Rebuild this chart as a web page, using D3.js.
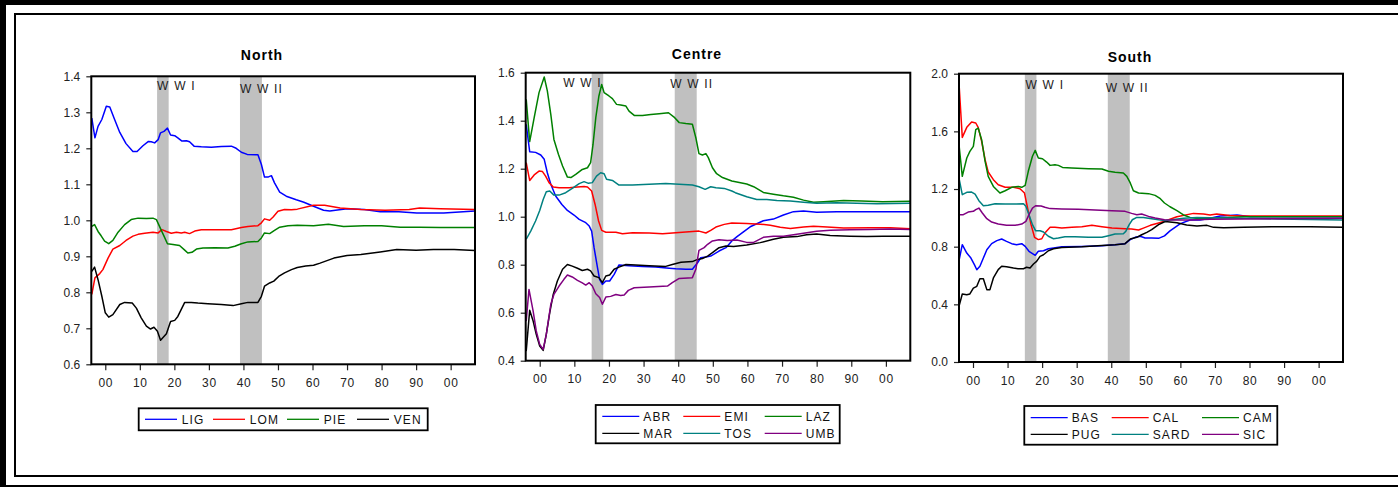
<!DOCTYPE html>
<html>
<head>
<meta charset="utf-8">
<script src="https://cdn.jsdelivr.net/npm/d3@7"></script>
<style>
  body { margin: 0; background: #fff; }
  svg { display: block; }
  text { font-family: "Liberation Sans", Arial, Helvetica, sans-serif; }
</style>
</head>
<body>
<svg id="chart" width="1398" height="487"></svg>
<script>
// ---- Data: relative regional indices, [year, value] ----
const DECADES = [1900, 1910, 1920, 1930, 1940, 1950, 1960, 1970, 1980, 1990, 2000];
const WAR_BANDS = [[1915, 1918.35], [1939, 1945.35]];

const NORTH_Y_TICKS = [0.6, 0.7, 0.8, 0.9, 1.0, 1.1, 1.2, 1.3, 1.4];
const CENTRE_Y_TICKS = [0.4, 0.6, 0.8, 1.0, 1.2, 1.4, 1.6];
const SOUTH_Y_TICKS = [0.0, 0.4, 0.8, 1.2, 1.6, 2.0];

// North
const LIG = [[1896.1,1.284],[1897,1.229],[1897.9,1.261],[1899,1.28],[1900.3,1.317],[1901.3,1.315],[1902.7,1.28],[1904.2,1.244],[1906,1.213],[1908,1.191],[1909.2,1.191],[1910.9,1.207],[1912.5,1.219],[1913.3,1.218],[1914.3,1.215],[1915.3,1.224],[1916,1.243],[1917,1.247],[1918,1.256],[1918.9,1.237],[1920.1,1.235],[1921,1.229],[1922.2,1.22],[1923.5,1.221],[1924.4,1.218],[1925.7,1.206],[1927.8,1.204],[1930.7,1.203],[1933.6,1.205],[1936.5,1.206],[1937.9,1.2],[1939.4,1.189],[1941.1,1.183],[1944.2,1.182],[1945.2,1.155],[1946.1,1.12],[1947.1,1.12],[1948.1,1.124],[1949,1.104],[1950.5,1.078],[1952.4,1.067],[1955.3,1.057],[1957.5,1.05],[1960.3,1.039],[1963.2,1.028],[1965,1.026],[1970,1.032],[1975,1.03],[1979.6,1.024],[1985,1.024],[1990.2,1.02],[1998,1.02],[2007,1.026]];
const LOM = [[1896.1,0.794],[1897,0.84],[1898.4,0.852],[1899.3,0.863],[1900.8,0.895],[1902.2,0.92],[1904.2,0.93],[1906,0.944],[1908,0.956],[1909.5,0.961],[1911.4,0.964],[1913.8,0.967],[1915.3,0.965],[1916.4,0.974],[1917.7,0.969],[1919.1,0.964],[1920.6,0.967],[1922,0.965],[1923,0.967],[1924.4,0.963],[1925.9,0.97],[1927.8,0.974],[1931.7,0.974],[1936.5,0.974],[1939.4,0.98],[1941.3,0.983],[1944.2,0.985],[1945.2,0.993],[1946.1,1.004],[1947.6,1.0],[1948.6,1.009],[1950,1.025],[1951.9,1.03],[1953.9,1.029],[1955.6,1.031],[1960.3,1.042],[1963.5,1.042],[1968,1.034],[1974,1.03],[1981,1.028],[1988,1.03],[1991,1.034],[1997,1.032],[2007,1.03]];
const PIE = [[1896.1,0.983],[1896.9,0.988],[1897.9,0.969],[1898.8,0.957],[1899.8,0.942],[1901,0.935],[1902.2,0.944],[1903.7,0.967],[1905.6,0.988],[1907.5,1.002],[1909.5,1.006],[1911.9,1.005],[1913.8,1.006],[1914.8,1.002],[1915.7,0.983],[1917,0.956],[1918,0.935],[1919.6,0.933],[1921.5,0.93],[1923,0.917],[1923.9,0.909],[1925.1,0.911],[1926.4,0.92],[1928.3,0.923],[1931.7,0.924],[1935.5,0.923],[1937.5,0.928],[1939.4,0.935],[1941.3,0.94],[1944.2,0.941],[1945.2,0.951],[1946.1,0.965],[1947.6,0.963],[1949,0.972],[1950.5,0.981],[1952.9,0.985],[1955.6,0.986],[1960.3,0.985],[1964.6,0.989],[1969,0.983],[1975,0.985],[1980,0.985],[1985.4,0.981],[1991,0.981],[1997,0.98],[2007,0.98]];
const VEN = [[1896.1,0.858],[1896.9,0.87],[1897.9,0.835],[1899,0.789],[1900,0.743],[1901,0.731],[1902.2,0.738],[1904.2,0.766],[1905.6,0.772],[1907.8,0.77],[1909,0.756],[1910.4,0.729],[1911.9,0.706],[1913.1,0.698],[1914.1,0.703],[1915.1,0.692],[1916,0.667],[1917.7,0.685],[1918.9,0.719],[1920.1,0.722],[1921,0.733],[1923,0.772],[1924.9,0.772],[1926.8,0.77],[1929.7,0.768],[1933.6,0.766],[1937,0.763],[1939.4,0.768],[1941.3,0.772],[1944.2,0.772],[1945.2,0.789],[1946.1,0.817],[1947.6,0.826],[1948.8,0.831],[1950.2,0.844],[1951.9,0.854],[1953.9,0.863],[1955.6,0.869],[1958,0.873],[1960.3,0.875],[1962.2,0.881],[1966.2,0.895],[1970,0.902],[1974,0.905],[1979.6,0.912],[1984.4,0.919],[1990,0.917],[1995,0.919],[2001,0.919],[2007,0.916]];

// Centre
const ABR = [[1896.1,1.385],[1897.1,1.271],[1898.8,1.268],[1900.3,1.257],[1901.3,1.239],[1902.2,1.183],[1903.2,1.135],[1904.6,1.086],[1906.4,1.051],[1908,1.026],[1909.9,1.007],[1911.4,0.989],[1913.3,0.975],[1914.3,0.961],[1915,0.94],[1915.7,0.871],[1916.7,0.787],[1917.3,0.739],[1918.1,0.718],[1919.1,0.732],[1920.2,0.732],[1921.5,0.76],[1922.9,0.799],[1925.8,0.796],[1929.7,0.792],[1933.5,0.79],[1937.4,0.785],[1939.3,0.783],[1942.2,0.781],[1944.1,0.781],[1945.6,0.808],[1946.5,0.829],[1948,0.832],[1949.4,0.836],[1951.8,0.857],[1953.8,0.871],[1955.5,0.899],[1957,0.917],[1960.8,0.958],[1964.6,0.983],[1967.5,0.99],[1970.4,1.007],[1973.3,1.021],[1976.2,1.024],[1980,1.019],[1985.8,1.021],[1995.5,1.021],[2007,1.021]];
const EMI = [[1896.1,1.225],[1897.1,1.151],[1898.4,1.174],[1899.8,1.19],[1900.8,1.188],[1901.7,1.169],[1902.7,1.142],[1903.9,1.124],[1905.6,1.121],[1908.5,1.121],[1910.9,1.124],[1912.8,1.126],[1913.8,1.124],[1915,1.107],[1916,1.051],[1917,0.982],[1917.9,0.943],[1919.1,0.935],[1922,0.935],[1923.9,0.929],[1926.8,0.933],[1931.6,0.932],[1935.5,0.929],[1939.3,0.933],[1944.1,0.938],[1946,0.94],[1948,0.932],[1949.4,0.943],[1950.9,0.957],[1953.3,0.968],[1955.5,0.974],[1959.8,0.972],[1963.7,0.969],[1966.6,0.964],[1969.5,0.956],[1972.4,0.951],[1976.2,0.957],[1979.1,0.96],[1983,0.957],[1987.8,0.953],[1995.5,0.954],[2001.3,0.954],[2007,0.95]];
const LAZ = [[1896.1,1.489],[1897.1,1.313],[1898.4,1.413],[1899.8,1.517],[1901.3,1.582],[1902.2,1.524],[1903.2,1.426],[1904.1,1.322],[1905.4,1.26],[1906.6,1.211],[1908,1.165],[1909,1.163],[1910.4,1.176],[1912.3,1.197],[1913.8,1.204],[1914.7,1.225],[1915.4,1.301],[1916.2,1.413],[1917.1,1.503],[1917.9,1.551],[1918.6,1.517],[1920,1.503],[1921,1.492],[1922.2,1.468],[1923.4,1.465],[1924.9,1.461],[1925.8,1.44],[1927.3,1.422],[1929.7,1.422],[1932.1,1.426],[1934.5,1.429],[1937.2,1.433],[1938.8,1.415],[1940.3,1.392],[1942.2,1.388],[1944.1,1.385],[1945.1,1.329],[1946,1.263],[1947,1.257],[1948,1.263],[1948.7,1.246],[1949.9,1.204],[1951.1,1.179],[1952.8,1.163],[1955.5,1.149],[1959.8,1.136],[1961.8,1.125],[1964.6,1.101],[1967.5,1.094],[1970.4,1.087],[1973.3,1.081],[1976.2,1.069],[1979.1,1.06],[1982,1.062],[1987.8,1.067],[1993,1.065],[1999,1.062],[2007,1.064]];
const MAR = [[1896.1,0.44],[1897.1,0.61],[1898.1,0.565],[1899,0.51],[1900,0.461],[1901,0.443],[1901.9,0.51],[1902.9,0.6],[1903.9,0.676],[1905.1,0.732],[1906.6,0.781],[1908,0.801],[1909.4,0.794],[1910.9,0.785],[1912.3,0.776],[1913.8,0.781],[1914.7,0.774],[1915.7,0.753],[1917.1,0.746],[1918.1,0.725],[1919.1,0.753],[1920.2,0.757],[1921.5,0.781],[1922.9,0.79],[1924.9,0.801],[1927.7,0.799],[1931.6,0.796],[1936.4,0.793],[1938.3,0.801],[1940.8,0.81],[1944.1,0.813],[1945.6,0.822],[1947,0.826],[1948.5,0.836],[1949.9,0.85],[1951.8,0.871],[1953.8,0.878],[1956,0.876],[1959.8,0.882],[1963.7,0.892],[1967.5,0.906],[1970.4,0.914],[1974.3,0.917],[1977.1,0.925],[1980,0.928],[1983.9,0.922],[1989.6,0.919],[1994.4,0.917],[1999.2,0.919],[2007,0.919]];
const TOS = [[1896.1,0.906],[1897.4,0.94],[1898.8,0.982],[1900,1.026],[1901,1.072],[1901.9,1.104],[1902.9,1.107],[1904.1,1.09],[1905.6,1.09],[1907.5,1.1],[1909.4,1.118],[1911.4,1.138],[1912.8,1.146],[1914.1,1.139],[1915.2,1.142],[1916.4,1.169],[1917.6,1.183],[1918.6,1.179],[1919.3,1.156],[1921,1.151],[1922.9,1.132],[1926.8,1.132],[1931.6,1.135],[1936.4,1.138],[1940.3,1.135],[1944.1,1.132],[1946,1.125],[1947.8,1.114],[1949.4,1.125],[1950.9,1.121],[1953.3,1.118],[1955.5,1.107],[1956.5,1.1],[1959.8,1.083],[1962.7,1.072],[1965.6,1.072],[1968.5,1.068],[1972.4,1.065],[1976.2,1.06],[1980,1.056],[1985.8,1.058],[1991.6,1.056],[1997.4,1.054],[2007,1.056]];
const UMB = [[1896.1,0.565],[1896.9,0.697],[1898.1,0.607],[1899,0.524],[1900,0.468],[1901,0.447],[1901.9,0.51],[1903.2,0.635],[1904.1,0.676],[1905.6,0.711],[1907,0.739],[1908,0.757],[1909.4,0.749],[1910.9,0.735],[1912.3,0.724],[1913.3,0.715],[1914.3,0.725],[1915.2,0.711],[1916.2,0.679],[1917.3,0.663],[1918.1,0.635],[1919.1,0.665],[1920.5,0.668],[1922,0.676],[1923.4,0.672],[1924.4,0.674],[1925.6,0.693],[1927.3,0.704],[1931.6,0.707],[1936.9,0.711],[1938.3,0.725],[1940.3,0.743],[1944.1,0.746],[1945.1,0.781],[1946,0.86],[1947.5,0.871],[1948.5,0.885],[1949.9,0.899],[1951.8,0.904],[1954.2,0.901],[1957,0.903],[1959.8,0.893],[1961.8,0.893],[1964.6,0.914],[1967.5,0.919],[1970.4,0.919],[1973.3,0.925],[1976.2,0.931],[1980,0.939],[1983.9,0.944],[1989.6,0.946],[1995.4,0.947],[2001.2,0.949],[2007,0.947]];

// South
const BAS = [[1895.95,0.703],[1896.9,0.814],[1898.2,0.756],[1899.4,0.721],[1900.4,0.675],[1901.1,0.64],[1902,0.664],[1903,0.721],[1904,0.779],[1905.4,0.821],[1906.9,0.842],[1908.3,0.853],[1909.7,0.837],[1911.2,0.821],[1912.6,0.814],[1914.1,0.821],[1915.1,0.802],[1916.2,0.768],[1918,0.74],[1918.9,0.768],[1920.4,0.772],[1921.8,0.786],[1923.3,0.791],[1925.7,0.8],[1931.5,0.802],[1937.3,0.807],[1941.1,0.814],[1944,0.821],[1945.5,0.849],[1946.9,0.865],[1948.4,0.872],[1949.8,0.86],[1951.7,0.86],[1953.7,0.858],[1955.4,0.875],[1957,0.91],[1960,0.96],[1962.8,0.985],[1965.7,0.985],[1968.6,0.997],[1971.5,1.013],[1976.4,1.02],[1980.3,1.008],[1988,1.008],[2007,1.008]];
const CAL = [[1895.95,1.935],[1896.9,1.558],[1898.2,1.628],[1899.6,1.665],[1900.8,1.658],[1901.5,1.628],[1902.5,1.531],[1903.5,1.403],[1904.4,1.318],[1905.9,1.265],[1907.3,1.23],[1909.3,1.212],[1911.7,1.212],[1913.6,1.202],[1914.9,1.172],[1915.8,1.068],[1916.8,0.953],[1917.8,0.865],[1918.9,0.849],[1919.9,0.855],[1920.8,0.895],[1922.3,0.934],[1923.7,0.934],[1925.7,0.929],[1928.6,0.934],[1931.5,0.939],[1934.4,0.948],[1937.3,0.939],[1940.2,0.929],[1944,0.925],[1945.9,0.923],[1947.9,0.916],[1949.3,0.929],[1951.3,0.948],[1953.7,0.964],[1955.4,0.976],[1959,1.008],[1963.8,1.031],[1966.7,1.027],[1968.6,1.02],[1970.5,1.027],[1974.3,1.017],[1978.2,1.013],[1987.8,1.013],[2007,1.013]];
const CAM = [[1895.95,1.508],[1896.9,1.288],[1898.2,1.415],[1899.1,1.461],[1900.1,1.496],[1900.8,1.612],[1901.5,1.623],[1902.5,1.542],[1903.5,1.392],[1904.4,1.288],[1905.9,1.218],[1907.8,1.172],[1909.3,1.188],[1911.2,1.212],[1913.1,1.218],[1914.1,1.212],[1915.1,1.225],[1916,1.323],[1917.2,1.427],[1918,1.468],[1918.9,1.415],[1920.1,1.41],[1921.3,1.387],[1922.3,1.364],[1923.7,1.369],[1924.7,1.364],[1925.9,1.35],[1928.6,1.346],[1933.4,1.341],[1937.3,1.339],[1939.2,1.323],[1941.1,1.316],[1943.5,1.311],[1944.5,1.288],[1945.5,1.242],[1946.4,1.188],[1947.9,1.172],[1950.8,1.168],[1952.7,1.156],[1954.2,1.133],[1955.4,1.103],[1957,1.077],[1959,1.05],[1960.9,1.02],[1962.8,1.003],[1965.7,0.994],[1968.6,0.999],[1973.5,1.003],[1978.4,1.008],[1988,1.008],[2007,1.008]];
const PUG = [[1895.95,0.386],[1896.9,0.472],[1898.2,0.467],[1899.1,0.472],[1900.1,0.513],[1901.1,0.525],[1902,0.578],[1903,0.578],[1904,0.502],[1904.9,0.502],[1905.9,0.583],[1907.3,0.641],[1908.3,0.664],[1909.7,0.661],[1911.7,0.652],[1913.1,0.647],[1914.6,0.647],[1915.5,0.657],[1916.5,0.652],[1917.5,0.68],[1918.4,0.698],[1919.4,0.733],[1920.4,0.744],[1921.8,0.772],[1923.3,0.786],[1925.7,0.795],[1931.5,0.8],[1937.3,0.809],[1941.1,0.814],[1944,0.821],[1945.5,0.853],[1947.4,0.865],[1948.8,0.883],[1950.3,0.899],[1951.7,0.918],[1953.7,0.953],[1955.6,0.975],[1959,0.966],[1961.8,0.95],[1964.8,0.943],[1967.7,0.948],[1969.6,0.934],[1972.5,0.932],[1978.3,0.934],[1988,0.939],[1997.6,0.939],[2007,0.934]];
const SARD = [[1895.95,1.276],[1896.9,1.161],[1898.2,1.177],[1899.6,1.179],[1900.6,1.165],[1901.7,1.119],[1903,1.084],[1904.4,1.087],[1906.4,1.098],[1909.3,1.096],[1912.2,1.096],[1914.6,1.098],[1915.3,1.08],[1916.2,1.022],[1917.2,0.953],[1918.1,0.911],[1919.4,0.911],[1920.4,0.902],[1921.8,0.872],[1923.3,0.855],[1924.7,0.86],[1926.6,0.869],[1929.5,0.869],[1933.4,0.865],[1937.3,0.865],[1939.2,0.876],[1941.1,0.888],[1943.5,0.89],[1944.2,0.906],[1945.2,0.953],[1946.1,0.987],[1947.4,1.003],[1949.3,1.003],[1951.7,0.994],[1953.7,0.987],[1955.4,0.982],[1957,0.985],[1960.9,0.997],[1964.8,1.003],[1968.6,1.001],[1978.3,0.997],[1988,0.992],[2007,0.985]];
const SIC = [[1895.95,1.022],[1897.2,1.022],[1898.6,1.04],[1900.1,1.045],[1900.8,1.057],[1901.7,1.068],[1902.7,1.034],[1904,0.994],[1905.4,0.971],[1907.3,0.957],[1909.7,0.948],[1912.2,0.948],[1914.1,0.957],[1915.3,0.976],[1916.2,1.022],[1917.2,1.068],[1918.1,1.084],[1919.7,1.082],[1920.8,1.073],[1922.3,1.064],[1925.7,1.061],[1930.5,1.059],[1935.3,1.054],[1940.2,1.05],[1944,1.045],[1945.9,1.031],[1947.4,1.022],[1948.8,1.027],[1950.8,1.01],[1952.7,0.999],[1955.4,0.987],[1958,0.985],[1963,0.985],[1968.6,0.99],[1978.3,0.992],[1988,0.994],[2007,0.997]];

// ---- Styling ----
const COLORS = { blue: "#0000ff", red: "#ff0000", green: "#008000", black: "#000000", teal: "#008080", purple: "#800080" };
const X_DOMAIN = [1895.95, 2007.05];

const panels = [
  {
    title: "North", titleX: 262, titleY: 60,
    box: { x0: 91.3, y0: 76.3, x1: 475, y1: 364.3 },
    yDomain: [0.6, 1.4], yTicks: NORTH_Y_TICKS,
    series: [
      { name: "LIG", color: COLORS.blue, data: LIG },
      { name: "LOM", color: COLORS.red, data: LOM },
      { name: "PIE", color: COLORS.green, data: PIE },
      { name: "VEN", color: COLORS.black, data: VEN }
    ],
    warLabels: [{ text: "W W I", year: 1915, dy: 13.8 }, { text: "W W II", year: 1939, dy: 16.4 }],
    legend: { x: 138.7, y: 408.3, w: 289, h: 22, lineLen: 32, textGap: 4.7, cols: [6.3, 74.3, 148.3, 218.3], rows: [11], perRow: 4 }
  },
  {
    title: "Centre", titleX: 697, titleY: 59,
    box: { x0: 525.7, y0: 72.7, x1: 910.3, y1: 360.7 },
    yDomain: [0.4, 1.6], yTicks: CENTRE_Y_TICKS,
    series: [
      { name: "ABR", color: COLORS.blue, data: ABR },
      { name: "EMI", color: COLORS.red, data: EMI },
      { name: "LAZ", color: COLORS.green, data: LAZ },
      { name: "MAR", color: COLORS.black, data: MAR },
      { name: "TOS", color: COLORS.teal, data: TOS },
      { name: "UMB", color: COLORS.purple, data: UMB }
    ],
    warLabels: [{ text: "W W I", year: 1906.8, dy: 14.6 }, { text: "W W II", year: 1937.7, dy: 15 }],
    legend: { x: 595.7, y: 405, w: 244, h: 38.3, lineLen: 37, textGap: 4, cols: [6.6, 87.6, 169], rows: [11.3, 28.3], perRow: 3 }
  },
  {
    title: "South", titleX: 1130, titleY: 62,
    box: { x0: 959, y0: 73.7, x1: 1343, y1: 362 },
    yDomain: [0, 2], yTicks: SOUTH_Y_TICKS,
    series: [
      { name: "BAS", color: COLORS.blue, data: BAS },
      { name: "CAL", color: COLORS.red, data: CAL },
      { name: "CAM", color: COLORS.green, data: CAM },
      { name: "PUG", color: COLORS.black, data: PUG },
      { name: "SARD", color: COLORS.teal, data: SARD },
      { name: "SIC", color: COLORS.purple, data: SIC }
    ],
    warLabels: [{ text: "W W I", year: 1915.2, dy: 15.3 }, { text: "W W II", year: 1938.4, dy: 18.3 }],
    legend: { x: 1024.3, y: 406, w: 253, h: 38.7, lineLen: 37, textGap: 4, cols: [6.4, 87.4, 177.7], rows: [11.7, 28.3], perRow: 3 }
  }
];

const svg = d3.select("#chart");
svg.append("rect").attr("width", 1398).attr("height", 487).attr("fill", "#fff");

// Page frame: heavy outer edge and thin inner rule (open on the right)
svg.append("rect").attr("x", 0).attr("y", 0).attr("width", 6).attr("height", 487).attr("fill", "#000");
svg.append("rect").attr("x", 0).attr("y", 0).attr("width", 1398).attr("height", 5).attr("fill", "#000");
svg.append("rect").attr("x", 0).attr("y", 485).attr("width", 1398).attr("height", 2).attr("fill", "#000");
svg.append("path")
  .attr("d", "M1398,14 H15 V476 H1398")
  .attr("fill", "none").attr("stroke", "#000").attr("stroke-width", 2);

const fmtDecade = d => String(d % 100).padStart(2, "0");
const fmtY = d3.format(".1f");

panels.forEach((p, pi) => {
  const b = p.box;
  const x = d3.scaleLinear().domain(X_DOMAIN).range([b.x0, b.x1]);
  const y = d3.scaleLinear().domain(p.yDomain).range([b.y1, b.y0]);
  const g = svg.append("g");

  const clipId = "clip" + pi;
  g.append("clipPath").attr("id", clipId)
    .append("rect").attr("x", b.x0).attr("y", b.y0).attr("width", b.x1 - b.x0).attr("height", b.y1 - b.y0);

  // Title
  g.append("text").attr("x", p.titleX).attr("y", p.titleY)
    .attr("text-anchor", "middle").attr("font-size", 14).attr("font-weight", "bold")
    .attr("letter-spacing", 1).attr("fill", "#000").text(p.title);

  // War shading
  g.selectAll("rect.band").data(WAR_BANDS).join("rect")
    .attr("x", d => x(d[0])).attr("y", b.y0)
    .attr("width", d => x(d[1]) - x(d[0])).attr("height", b.y1 - b.y0)
    .attr("fill", "#c0c0c0");

  // War labels
  g.selectAll("text.war").data(p.warLabels).join("text")
    .attr("x", d => x(d.year)).attr("y", d => b.y0 + d.dy)
    .attr("font-size", 12).attr("letter-spacing", 1.2).attr("fill", "#222")
    .attr("xml:space", "preserve").text(d => d.text);

  // Series
  const line = d3.line().x(d => x(d[0])).y(d => y(d[1]));
  g.append("g").attr("clip-path", `url(#${clipId})`)
    .selectAll("path").data(p.series).join("path")
    .attr("d", d => line(d.data))
    .attr("fill", "none").attr("stroke", d => d.color)
    .attr("stroke-width", 1.5).attr("stroke-linejoin", "round");

  // Axes
  const yAxis = d3.axisLeft(y).tickValues(p.yTicks).tickFormat(fmtY).tickSize(5).tickPadding(6);
  const ya = g.append("g").attr("transform", `translate(${b.x0},0)`).call(yAxis);
  const xAxis = d3.axisBottom(x).tickValues(DECADES).tickFormat(fmtDecade).tickSize(6).tickPadding(8);
  const xa = g.append("g").attr("transform", `translate(0,${b.y1})`).call(xAxis);
  [ya, xa].forEach(a => {
    a.select(".domain").remove();
    a.selectAll(".tick line").attr("stroke", "#222").attr("stroke-width", 1.2);
    a.selectAll(".tick text").attr("font-size", 12).attr("fill", "#222")
      .attr("font-family", '"Liberation Sans", Arial, sans-serif');
  });
  xa.selectAll(".tick text").attr("letter-spacing", 0.6);

  // Plot frame
  g.append("rect").attr("x", b.x0).attr("y", b.y0)
    .attr("width", b.x1 - b.x0).attr("height", b.y1 - b.y0)
    .attr("fill", "none").attr("stroke", "#000").attr("stroke-width", 2);

  // Legend
  const L = p.legend;
  const lg = g.append("g").attr("transform", `translate(${L.x},${L.y})`);
  lg.append("rect").attr("width", L.w).attr("height", L.h)
    .attr("fill", "#fff").attr("stroke", "#000").attr("stroke-width", 1.8);
  const items = lg.selectAll("g.item").data(p.series).join("g")
    .attr("transform", (d, i) => `translate(${L.cols[i % L.perRow]},${L.rows[Math.floor(i / L.perRow)]})`);
  items.append("line").attr("x1", 0).attr("x2", L.lineLen).attr("y1", 0).attr("y2", 0)
    .attr("stroke", d => d.color).attr("stroke-width", 1.3);
  items.append("text").attr("x", L.lineLen + L.textGap).attr("y", 0).attr("dy", "0.36em")
    .attr("font-size", 12).attr("letter-spacing", 1.1).attr("fill", "#111").text(d => d.name);
});
</script>
</body>
</html>
